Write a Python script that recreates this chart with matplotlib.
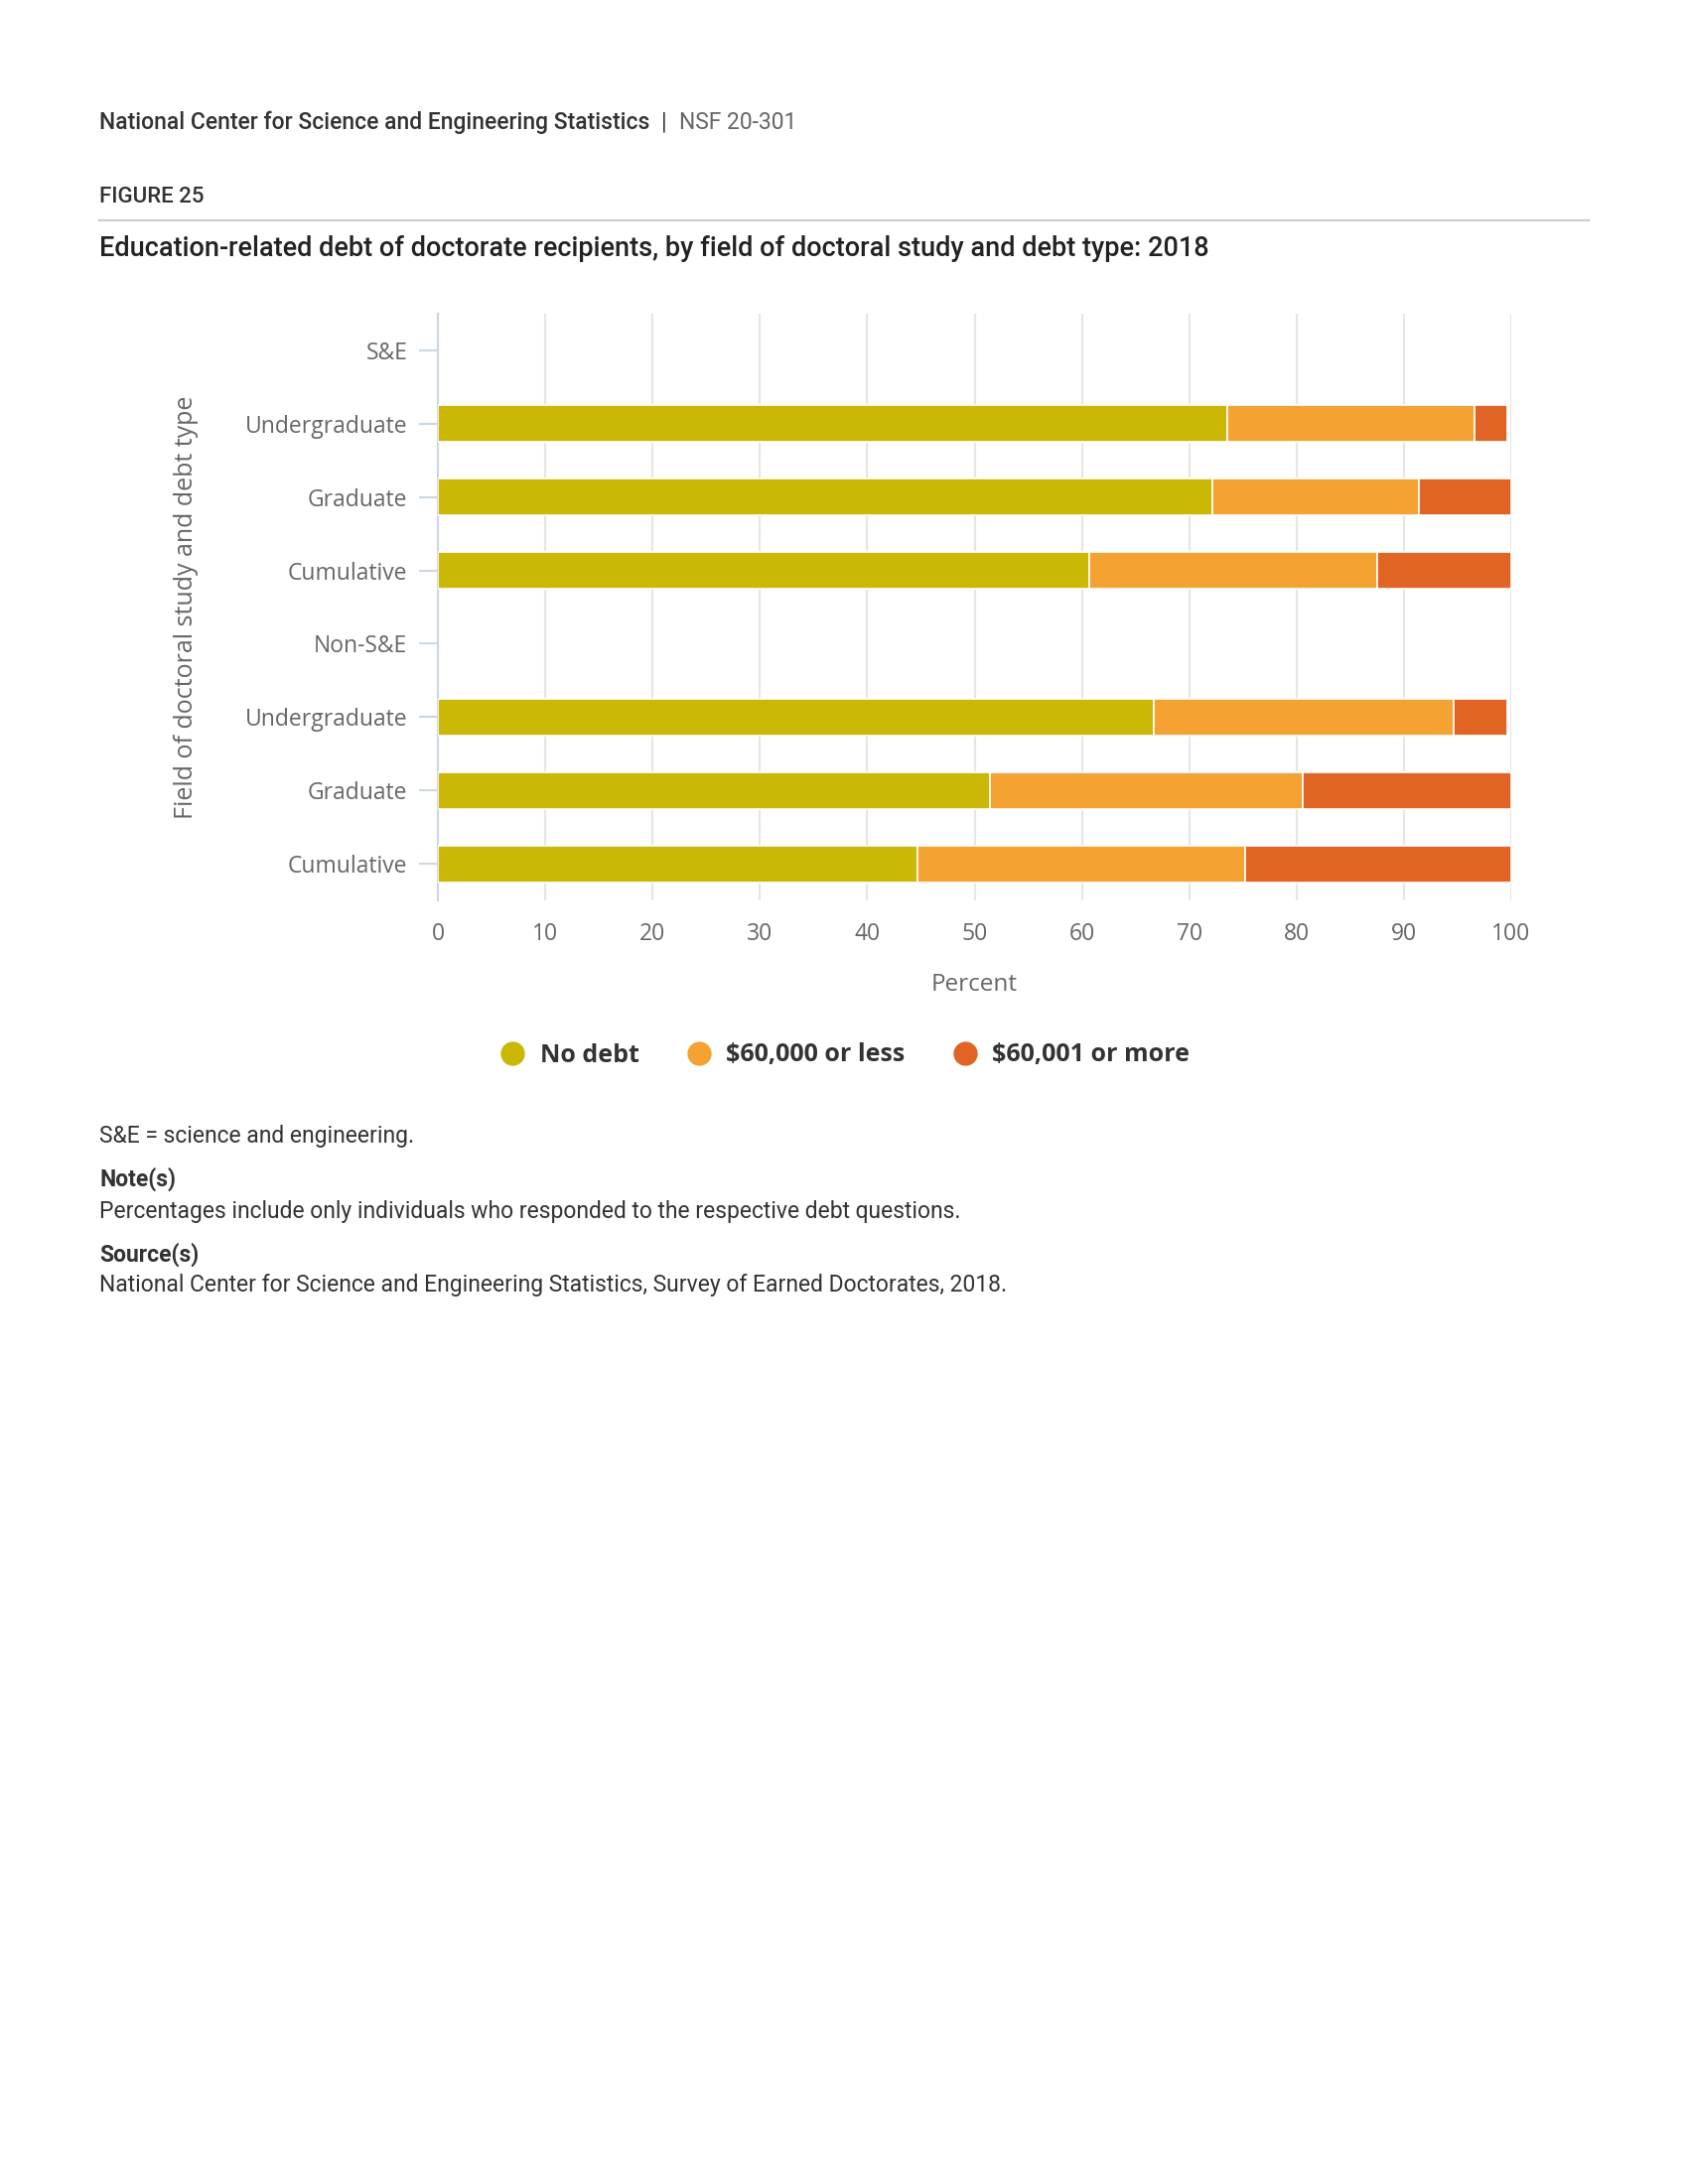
import numpy as np
import matplotlib.pyplot as plt
from matplotlib.lines import Line2D

# data
categories = ['S&E', 'Undergraduate', 'Graduate', 'Cumulative',
              'Non-S&E', 'Undergraduate', 'Graduate', 'Cumulative']
no_debt = [np.nan, 73.5, 72.2, 60.7, np.nan, 66.7, 51.4, 44.7]
upto_60k = [np.nan, 23.1, 19.2, 26.8, np.nan, 27.9, 29.2, 30.5]
over_60k = [np.nan, 3.0, 8.6, 12.5, np.nan, 5.0, 19.4, 24.8]
series_names = ['No debt', '$60,000 or less', '$60,001 or more']
colors = ['#CAB706', '#F4A231', '#E06524']
xticks = [0, 10, 20, 30, 40, 50, 60, 70, 80, 90, 100]

fig = plt.figure(figsize=(17, 22), dpi=100)
W, H = 1700, 2200

def fx(px):
    return px / W

def fy(py):
    return 1 - py / H

# header
fig.text(fx(100), fy(123), 'National Center for Science and Engineering Statistics',
         family='Roboto', fontweight='medium', fontsize=16.5, color='#333333', va='center')
fig.text(fx(666), fy(123), '|', family='Roboto', fontsize=16.5,
         color='#333333', va='center')
fig.text(fx(684), fy(123), 'NSF 20-301', family='Roboto', fontsize=16.5,
         color='#666666', va='center')
fig.text(fx(100), fy(198), 'FIGURE 25', family='Roboto', fontweight='medium',
         fontsize=16, color='#333333', va='center')
fig.add_artist(Line2D([fx(100), fx(1600)], [fy(222), fy(222)], color='#cccccc', lw=1.5))
fig.text(fx(100), fy(251), 'Education-related debt of doctorate recipients, by field of doctoral study and debt type: 2018',
         family='Roboto', fontweight='medium', fontsize=19.5, color='#222222', va='center')

# chart
ax = fig.add_axes([fx(441), fy(907), fx(1522) - fx(441), (907 - 316) / H])
y = np.arange(len(categories))
left = np.zeros(len(categories))
for vals, name, c in zip([no_debt, upto_60k, over_60k], series_names, colors):
    v = np.array(vals)
    ax.barh(y, v, left=left, height=0.5, color=c, edgecolor='white', linewidth=1.2,
            label=name, zorder=3)
    left = left + np.nan_to_num(v)

ax.set_ylim(len(categories) - 0.5, -0.5)
ax.set_xlim(0, 100)
ax.set_xticks(xticks)
ax.set_yticks(y)
ax.set_yticklabels(categories)
ax.grid(axis='x', color='#e6e6e6', lw=1.5, zorder=0)
for s in ['top', 'right', 'bottom']:
    ax.spines[s].set_visible(False)
ax.spines['left'].set_color('#ccd6eb')
ax.spines['left'].set_linewidth(1.5)
ax.tick_params(axis='y', length=14, width=1.5, color='#ccd6eb', pad=8,
               labelsize=16.5, labelcolor='#666666')
ax.tick_params(axis='x', length=0, pad=16, labelsize=16.5, labelcolor='#666666')
for lab in ax.get_xticklabels() + ax.get_yticklabels():
    lab.set_family('Open Sans')
ax.set_xlabel('Percent', family='Open Sans', fontsize=17.5, color='#666666', labelpad=19)
ax.set_ylabel('Field of doctoral study and debt type', family='Open Sans', fontsize=18,
              color='#666666', labelpad=34)

# legend
handles = [Line2D([], [], marker='o', ls='', markersize=16.5, color=c) for c in colors]
leg = fig.legend(handles, series_names, loc='center', bbox_to_anchor=(fx(851), fy(1063)),
                 ncol=3, frameon=False, handlelength=1.0, handletextpad=0.6,
                 columnspacing=1.9,
                 prop={'family': 'Open Sans', 'weight': 'bold', 'size': 18})
for t in leg.get_texts():
    t.set_color('#333333')

# footnotes
fn = dict(family='Roboto', fontsize=16.5, color='#333333', va='center')
fig.text(fx(100), fy(1144), 'S&E = science and engineering.', **fn)
fig.text(fx(100), fy(1188), 'Note(s)', fontweight='bold', **fn)
fig.text(fx(100), fy(1220), 'Percentages include only individuals who responded to the respective debt questions.', **fn)
fig.text(fx(100), fy(1264), 'Source(s)', fontweight='bold', **fn)
fig.text(fx(100), fy(1295), 'National Center for Science and Engineering Statistics, Survey of Earned Doctorates, 2018.', **fn)

fig.savefig('out.png', dpi=100, facecolor='white')
